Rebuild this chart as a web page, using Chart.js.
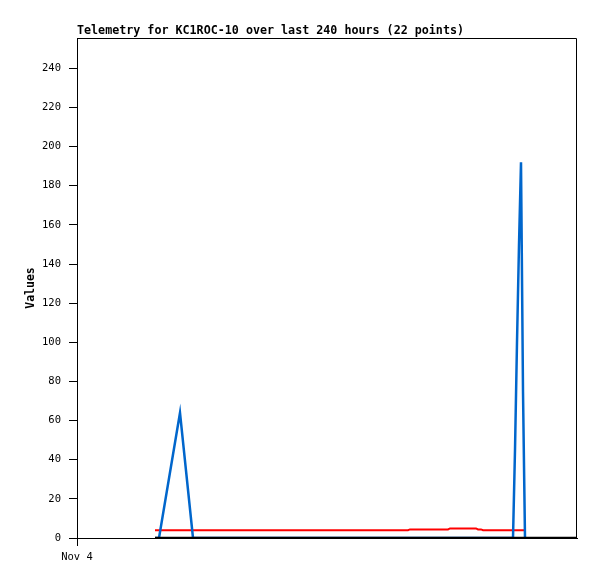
<!DOCTYPE html>
<html>
<head>
<meta charset="utf-8">
<script src="https://cdn.jsdelivr.net/npm/chart.js@4"></script>
<style>
  html, body { margin: 0; padding: 0; background: #fff; }
  #wrap { width: 597px; height: 579px; }
</style>
</head>
<body>
<div id="wrap"><canvas id="telemetry" width="597" height="579"></canvas></div>
<script>
// time of each sample, hours after Nov 4 00:00
var times = [39, 41, 51.5, 58, 81.5, 111.5, 141.5, 165.5, 166.5, 185.5, 186.5,
             199.5, 200.5, 202, 203, 218, 219, 220, 221, 222, 223, 224];
// blue series
var blueValues = [0, 0, 64, 0, 0, 0, 0, 0, 0, 0, 0,
                  0, 0, 0, 0, 0, 45, 100, 150, 192, 75, 0];
// red series
var redValues = [4, 4, 4, 4, 4, 4, 4, 4, 4.4, 4.4, 4.9,
                 4.9, 4.4, 4.4, 4, 4, 4, 4, 4, 4, 4, 4];
// black baseline series
var blackTimes = [39, 250];
var blackValues = [0, 0];

// axis ticks
var yTickValues = [0, 20, 40, 60, 80, 100, 120, 140, 160, 180, 200, 220, 240];
var xTickValues = [0];
var xTickLabels = ['Nov 4'];

function toPoints(xs, ys) {
  return xs.map(function (x, i) { return { x: x, y: ys[i] }; });
}

// 枠線（上と右）
var framePlugin = {
  id: 'frame',
  beforeDatasetsDraw: function (chart) {
    var a = chart.chartArea;
    var ctx = chart.ctx;
    ctx.save();
    ctx.strokeStyle = '#000';
    ctx.lineWidth = 1;
    ctx.beginPath();
    ctx.moveTo(a.left, a.top + 0.5);
    ctx.lineTo(a.right - 0.5, a.top + 0.5);
    ctx.lineTo(a.right - 0.5, a.bottom);
    ctx.stroke();
    ctx.restore();
  }
};

var ctx = document.getElementById('telemetry');
var myChart = new Chart(ctx, {
  type: 'line',
  data: {
    datasets: [
      {
        label: 'blue',
        data: toPoints(times, blueValues),
        borderColor: '#0066cc',
        borderWidth: 2.5,
        pointRadius: 0,
        tension: 0,
        order: 1
      },
      {
        label: 'red',
        data: toPoints(times, redValues),
        borderColor: '#ff0000',
        borderWidth: 2,
        pointRadius: 0,
        tension: 0,
        order: 2
      },
      {
        label: 'black',
        data: toPoints(blackTimes, blackValues),
        borderColor: '#000000',
        borderWidth: 2.5,
        pointRadius: 0,
        tension: 0,
        order: 0
      }
    ]
  },
  options: {
    responsive: false,
    animation: false,
    layout: { padding: { left: 0, right: 20, top: 0, bottom: 0 } },
    plugins: {
      legend: { display: false },
      tooltip: { enabled: false },
      title: {
        display: true,
        text: 'Telemetry for KC1ROC-10 over last 240 hours (22 points)',
        align: 'start',
        fullSize: false,
        color: '#000',
        font: { family: 'DejaVu Sans Mono', size: 11.7, weight: 'bold', lineHeight: 1.0 },
        padding: { top: 25.5, bottom: 0.8 }
      }
    },
    scales: {
      x: {
        type: 'linear',
        min: 0,
        max: 250,
        afterFit: function (scale) { scale.height = 41; },
        afterBuildTicks: function (scale) {
          scale.ticks = xTickValues.map(function (v) { return { value: v }; });
        },
        ticks: {
          color: '#000',
          font: { family: 'DejaVu Sans Mono', size: 10.5 },
          padding: 5,
          maxRotation: 0,
          callback: function (value) {
            var i = xTickValues.indexOf(value);
            return i >= 0 ? xTickLabels[i] : '';
          }
        },
        grid: { drawOnChartArea: false, drawTicks: true, tickLength: 8, color: '#000' },
        border: { display: true, color: '#000', width: 1 }
      },
      y: {
        type: 'linear',
        min: 0,
        max: 255.5,
        afterFit: function (scale) { scale.width = 77; },
        afterBuildTicks: function (scale) {
          scale.ticks = yTickValues.map(function (v) { return { value: v }; });
        },
        ticks: {
          color: '#000',
          font: { family: 'DejaVu Sans Mono', size: 10.5 },
          padding: 8
        },
        grid: { drawOnChartArea: false, drawTicks: true, tickLength: 8, color: '#000' },
        border: { display: true, color: '#000', width: 1 },
        title: {
          display: true,
          text: 'Values',
          color: '#000',
          font: { family: 'DejaVu Sans Mono', size: 11.5, weight: 'bold', lineHeight: 1.2 },
          padding: { top: 24, bottom: 0 }
        }
      }
    }
  },
  plugins: [framePlugin]
});
</script>
</body>
</html>
